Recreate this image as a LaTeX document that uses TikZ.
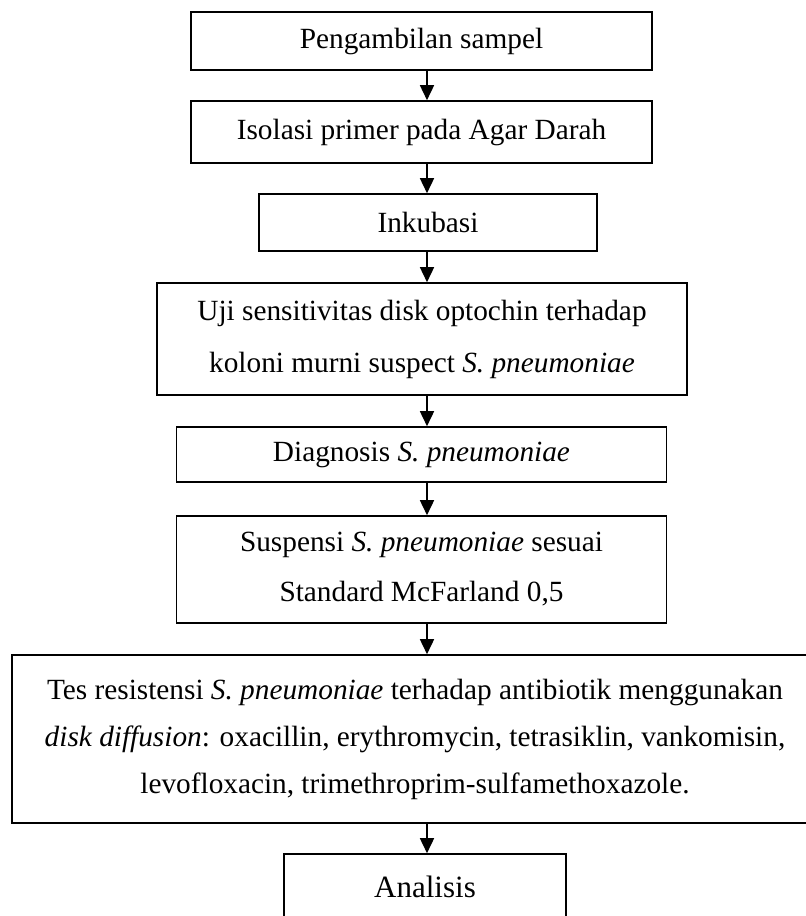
\documentclass[tikz,border=0pt]{standalone}
\usepackage{fontspec}
\setmainfont{Liberation Serif}
\usetikzlibrary{arrows.meta}
\begin{document}
\begin{tikzpicture}[x=1pt,y=-1pt,
  box/.style={draw,line width=1.6pt,inner sep=0pt,align=center,
    font=\fontsize{29.3pt}{50pt}\selectfont},
  arr/.style={line width=1.6pt,-{Triangle[length=15pt,width=14pt]}}]
\useasboundingbox (0,0) rectangle (806,916);
\coordinate (axis) at (427,0);
\node[box,minimum width=461pt,minimum height=58pt] (b1) at (421.5,41) {Pengambilan sampel};
\node[box,minimum width=461pt,minimum height=62pt] (b2) at (421.5,132) {Isolasi primer pada Agar Darah};
\node[box,minimum width=338pt,minimum height=57pt] (b3) at (428,222.5) {Inkubasi};
\node[box,minimum width=530pt,minimum height=112pt,font=\fontsize{29.3pt}{52pt}\selectfont] (b4) at (422,339) {Uji sensitivitas disk optochin terhadap\\koloni murni suspect \textit{S. pneumoniae}};
\node[box,minimum width=490pt,minimum height=55pt] (b5) at (421.5,454.5) {Diagnosis \textit{S. pneumoniae}};
\node[box,minimum width=490pt,minimum height=107pt] (b6) at (421.5,569.5) {Suspensi \textit{S. pneumoniae} sesuai\\Standard McFarland 0,5};
\node[box,minimum width=806pt,minimum height=168pt,font=\fontsize{29.3pt}{47pt}\selectfont] (b7) at (415,739) {Tes resistensi \textit{S. pneumoniae} terhadap antibiotik menggunakan\\\textit{disk diffusion}: oxacillin, erythromycin, tetrasiklin, vankomisin,\\levofloxacin, trimethroprim-sulfamethoxazole.};
\node[box,minimum width=282pt,minimum height=66pt,font=\fontsize{31pt}{37pt}\selectfont] (b8) at (425,887) {Analisis};
\draw[arr] (b1.south -| axis) -- (b2.north -| axis);
\draw[arr] (b2.south -| axis) -- (b3.north -| axis);
\draw[arr] (b3.south -| axis) -- (b4.north -| axis);
\draw[arr] (b4.south -| axis) -- (b5.north -| axis);
\draw[arr] (b5.south -| axis) -- (b6.north -| axis);
\draw[arr] (b6.south -| axis) -- (b7.north -| axis);
\draw[arr] (b7.south -| axis) -- (b8.north -| axis);
\end{tikzpicture}
\end{document}
